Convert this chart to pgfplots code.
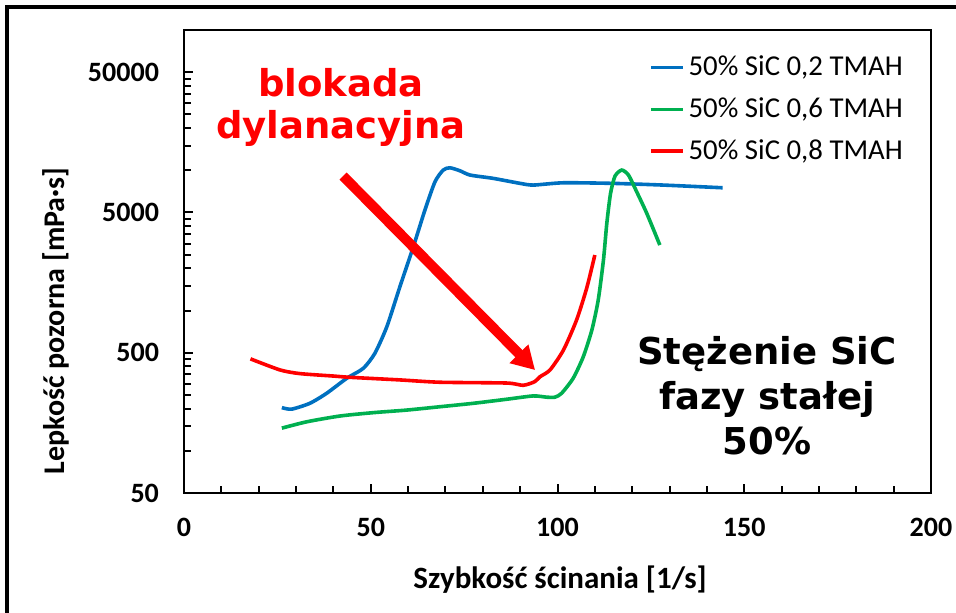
\documentclass[border=0pt]{standalone}
\usepackage{fontspec}
\setmainfont{Carlito}
\newfontfamily\annfont{DejaVu Sans}
\usepackage{pgfplots}
\pgfplotsset{compat=1.18}
\usetikzlibrary{arrows.meta}
\definecolor{xlblue}{RGB}{0,112,192}
\definecolor{xlgreen}{RGB}{0,176,80}
\definecolor{xlred}{RGB}{255,0,0}

% shear rate [1/s] vs apparent viscosity [mPa s]
\pgfplotstableread{
x y
26.2 203
28.8 198
33.7 218
38.2 257
43.6 329
48.0 387
51.1 495
54.3 766
57.8 1477
61.4 2848
64.5 5200
67.2 8280
69.4 10030
71.2 10410
73.9 9910
76.6 9240
82.8 8750
90.0 8060
93.5 7840
101.6 8140
114.9 8060
128.3 7840
144.2 7500
}\tmahA
\pgfplotstableread{
x y
26.2 145
32.9 161
41.8 177
50.7 187
59.6 195
68.5 206
77.5 218
86.4 233
93.5 246
97.1 241
99.3 241
101.1 257
104.2 329
106.9 468
109.2 726
110.9 1187
112.3 2289
113.2 4181
114.2 6841
115.4 9088
117.2 10030
119.0 9240
121.2 7023
123.9 4927
127.4 2928
}\tmahB
\pgfplotstableread{
x y
17.8 452
25.7 377
31.0 355
40.0 341
44.4 334
57.8 320
68.5 308
86.4 304
90.8 293
93.9 311
95.3 337
98.0 377
101.6 523
105.1 855
107.8 1439
110.0 2486
}\tmahC

\begin{document}
\begin{tikzpicture}
\path[use as bounding box] (0,0) rectangle (478pt,306.5pt);
% frame remnants of the slide
\draw[line width=2pt] (3.5pt,0) -- (3.5pt,303.2pt) -- (478pt,303.2pt);
\begin{axis}[
  at={(92pt,60pt)}, anchor=south west,
  scale only axis, width=373.5pt, height=231.5pt,
  xmin=0, xmax=200, ymode=log, ymin=50, ymax=100000,
  xtick={0,50,100,150,200}, minor x tick num=4,
  ytick={50,500,5000,50000}, yticklabels={50,500,5000,50000},
  minor ytick={100,150,200,250,300,350,400,450,1000,1500,2000,2500,3000,3500,4000,4500,10000,15000,20000,25000,30000,35000,40000,45000},
  tick pos=left, tick align=inside,
  major tick length=4.5pt, minor tick length=3.5pt,
  every tick/.style={black, line width=1pt},
  axis line style={line width=1pt},
  /pgf/number format/assume math mode=true,
  ticklabel style={font=\bfseries\fontsize{14}{16}\selectfont},
  xticklabel style={yshift=-9pt},
  yticklabel style={xshift=-9pt},
  legend style={at={(rel axis cs:0.622,0.953)}, anchor=north west, draw=none, fill=none,
    font=\fontsize{14.4}{17}\selectfont, row sep=5.5pt, inner sep=0pt},
  legend cell align=left,
  legend image code/.code={\draw[#1, line width=1.8pt] (0pt,0pt) -- (16pt,0pt);},
]
\addplot[xlblue, line width=1.8pt, smooth, tension=0.4] table {\tmahA};
\addlegendentry{50\% SiC 0,2 TMAH}
\addplot[xlgreen, line width=1.8pt, smooth, tension=0.4] table {\tmahB};
\addlegendentry{50\% SiC 0,6 TMAH}
\addplot[xlred, line width=1.8pt, smooth, tension=0.4] table {\tmahC};
\addlegendentry{50\% SiC 0,8 TMAH}
\draw[xlred, line width=5pt, -{Triangle[width=12.5pt,length=11.5pt]}] (axis cs:42.6,9088) -- (axis cs:94.0,376);
\end{axis}
\node[rotate=90, font=\bfseries\fontsize{15}{17}\selectfont] at (28pt,146pt) {Lepkość pozorna [mPa·s]};
\node[font=\bfseries\fontsize{15.5}{17}\selectfont] at (280pt,16.5pt) {Szybkość ścinania [1/s]};
\node[anchor=base, text=xlred, font=\annfont\bfseries\fontsize{18.5}{22}\selectfont] at (170.5pt,258pt) {blokada};
\node[anchor=base, text=xlred, font=\annfont\bfseries\fontsize{18.5}{22}\selectfont] at (170.5pt,237pt) {dylanacyjna};
\node[anchor=base, font=\annfont\bfseries\fontsize{18.5}{22}\selectfont] at (383.5pt,124pt) {Stężenie SiC};
\node[anchor=base, font=\annfont\bfseries\fontsize{18.5}{22}\selectfont] at (383.5pt,101.5pt) {fazy stałej};
\node[anchor=base, font=\annfont\bfseries\fontsize{18.5}{22}\selectfont] at (383.5pt,79pt) {50\%};
\end{tikzpicture}
\end{document}
